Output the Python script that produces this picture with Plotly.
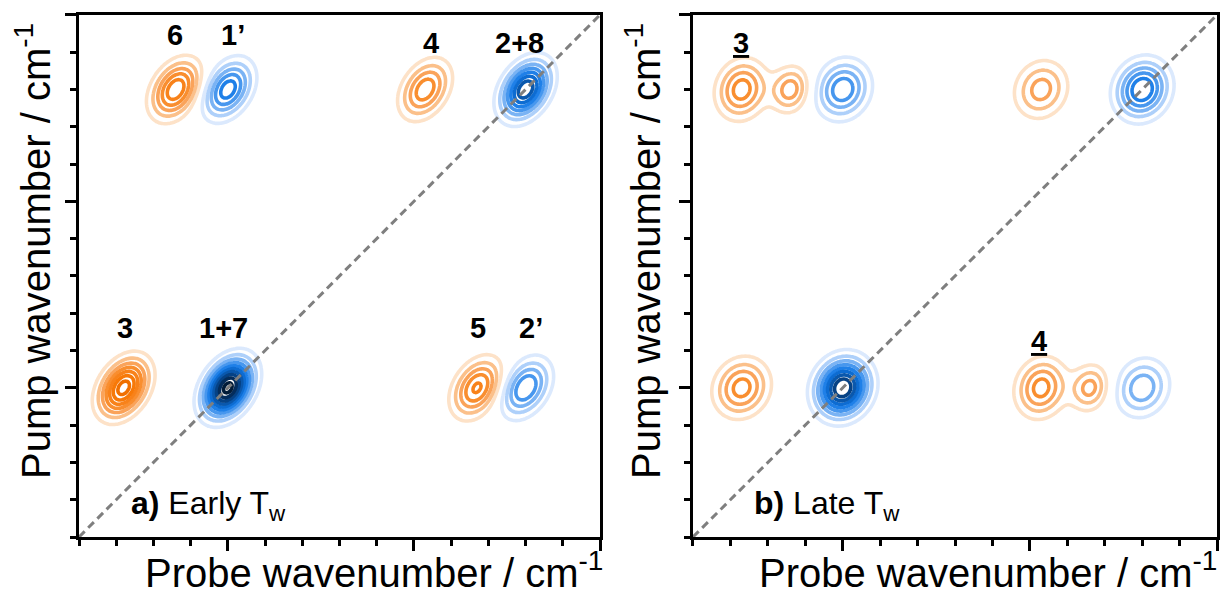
import numpy as np
import plotly.graph_objects as go

# ---------------- data ----------------
AXIS_MIN = 1960
AXIS_MAX = 2100
MAJOR_TICKS = [2000, 2050, 2100]
MINOR_TICKS = [1960, 1970, 1980, 1990, 2010, 2020, 2030, 2040, 2060, 2070, 2080, 2090]

# panel a (early Tw): peak centres (probe, pump), signed amplitudes, widths
a_probe = [2000, 2080, 2000, 2080, 1972, 1986, 2053, 2067]
a_pump = [2000, 2080, 2080, 2000, 2000, 2080, 2080, 2000]
a_amp = [1.04, 0.78, 0.56, 0.50, -0.75, -0.58, -0.47, -0.52]
a_sx = [4.2, 4.2, 4.2, 4.2, 4.2, 4.2, 4.2, 4.2]
a_sy = [4.9, 4.9, 4.9, 4.9, 4.9, 4.9, 4.9, 4.9]
a_rho = 0.35

# panel b (late Tw)
b_probe = [2000, 2080, 2000, 2080, 1973, 1973, 1986, 2053, 2053, 2066]
b_pump = [2000, 2080, 2080, 2000, 2000, 2080, 2080, 2080, 2000, 2000]
b_amp = [0.90, 0.60, 0.48, 0.38, -0.45, -0.46, -0.36, -0.35, -0.45, -0.34]
b_sx = [4.5, 4.5, 4.5, 4.5, 4.6, 4.2, 3.3, 4.5, 4.2, 3.3]
b_sy = [4.9, 4.9, 4.9, 4.9, 4.9, 4.9, 3.9, 4.9, 4.9, 3.9]
b_rho = 0.12

# peak labels
a_labels = ["6", "1’", "4", "2+8", "3", "1+7", "5", "2’"]
a_label_x = [1985.9, 2001.4, 2054.6, 2078.5, 1972.4, 1998.7, 2067.3, 2081.5]
a_label_y = [2094.5, 2094.5, 2092.5, 2092.5, 2016, 2016, 2016, 2016]
b_labels = ["<u>3</u>", "<u>4</u>"]
b_label_x = [1972.8, 2052.5]
b_label_y = [2092.5, 2012.5]

panel_titles = ["<b>a)</b> Early T<sub>w</sub>", "<b>b)</b> Late T<sub>w</sub>"]
x_title = "Probe wavenumber / cm<sup>-1</sup>"
y_title = "Pump wavenumber / cm<sup>-1</sup>"

FONT = "Liberation Sans, Arial, sans-serif"

blue_scale = [[0.0, "#dbe9fd"], [0.111, "#aed0fa"], [0.222, "#7ab3f4"], [0.333, "#4797ee"],
              [0.444, "#1f80e8"], [0.556, "#0d6cd2"], [0.667, "#0a58ad"], [0.778, "#064285"],
              [0.889, "#042d5c"], [1.0, "#021c38"]]
orange_scale = [[0.0, "#fde2c8"], [0.111, "#fbc08a"], [0.222, "#faa35a"], [0.333, "#f98e2f"],
                [0.444, "#f8821a"], [0.556, "#f77908"], [0.667, "#f07000"], [0.778, "#e66800"],
                [1.0, "#d85e00"]]

grid = np.arange(AXIS_MIN, AXIS_MAX + 0.25, 0.5)
GX, GY = np.meshgrid(grid, grid)


def spectrum(probe, pump, amp, sxs, sys_, rho):
    z = np.zeros_like(GX)
    for px, py, a, sx, sy in zip(probe, pump, amp, sxs, sys_):
        dx = (GX - px) / sx
        dy = (GY - py) / sy
        q = (dx * dx - 2 * rho * dx * dy + dy * dy) / (1 - rho * rho)
        z += a * np.exp(-0.5 * q)
    return z


fig = go.Figure()

panels = [
    ("x", "y", spectrum(a_probe, a_pump, a_amp, a_sx, a_sy, a_rho)),
    ("x2", "y2", spectrum(b_probe, b_pump, b_amp, b_sx, b_sy, b_rho)),
]

for xa, ya, z in panels:
    for sign, cs in [(1, blue_scale), (-1, orange_scale)]:
        fig.add_trace(go.Contour(
            x=grid, y=grid, z=sign * z, xaxis=xa, yaxis=ya,
            contours=dict(coloring="lines", start=0.1, end=1.0, size=0.1, showlines=True),
            line=dict(width=3.6, smoothing=1),
            colorscale=cs, zmin=0.1, zmax=1.0, zauto=False,
            showscale=False, hoverinfo="skip",
        ))
    fig.add_trace(go.Scatter(
        x=[AXIS_MIN, AXIS_MAX], y=[AXIS_MIN, AXIS_MAX], xaxis=xa, yaxis=ya,
        mode="lines", line=dict(color="#7f7f7f", width=3, dash="8px,5px"),
        showlegend=False, hoverinfo="skip",
    ))

axis_common = dict(
    range=[AXIS_MIN, AXIS_MAX], showgrid=False, zeroline=False,
    showline=True, linecolor="black", linewidth=3, mirror=True,
    ticks="outside", ticklen=11, tickwidth=3, tickcolor="black",
    tickmode="array", tickvals=MAJOR_TICKS, showticklabels=False,
    minor=dict(ticks="outside", ticklen=6, tickwidth=3, tickcolor="black",
               tickmode="array", tickvals=MINOR_TICKS),
    fixedrange=True,
)

Y_DOM = [0.099, 0.975]
fig.update_layout(
    width=1225, height=596,
    margin=dict(l=0, r=0, t=0, b=0, pad=0),
    paper_bgcolor="white", plot_bgcolor="white",
    showlegend=False,
    xaxis=dict(domain=[0.0645, 0.4898], anchor="y", **axis_common),
    yaxis=dict(domain=Y_DOM, anchor="x", **axis_common),
    xaxis2=dict(domain=[0.5657, 0.9935], anchor="y2", **axis_common),
    yaxis2=dict(domain=Y_DOM, anchor="x2", **axis_common),
)

ann = []
for t, x, y in zip(a_labels, a_label_x, a_label_y):
    ann.append(dict(text="<b>" + t + "</b>", x=x, y=y, xref="x", yref="y", showarrow=False,
                    font=dict(family=FONT, size=29, color="black")))
for t, x, y in zip(b_labels, b_label_x, b_label_y):
    ann.append(dict(text="<b>" + t + "</b>", x=x, y=y, xref="x2", yref="y2", showarrow=False,
                    font=dict(family=FONT, size=29, color="black")))

ann.append(dict(text=panel_titles[0], x=1973.5, y=1968.5, xref="x", yref="y", xanchor="left",
                showarrow=False, font=dict(family=FONT, size=32, color="black")))
ann.append(dict(text=panel_titles[1], x=1975.8, y=1968.5, xref="x2", yref="y2", xanchor="left",
                showarrow=False, font=dict(family=FONT, size=32, color="black")))

for cx in [0.3053, 0.8065]:
    ann.append(dict(text=x_title, x=cx, y=0.043, xref="paper", yref="paper",
                    xanchor="center", yanchor="middle", showarrow=False,
                    font=dict(family=FONT, size=40, color="black")))
for cx in [0.027, 0.525]:
    ann.append(dict(text=y_title, x=cx, y=0.579, xref="paper", yref="paper",
                    xanchor="center", yanchor="middle", textangle=-90, showarrow=False,
                    font=dict(family=FONT, size=40, color="black")))

fig.update_layout(annotations=ann)
fig.write_html("out.html")
